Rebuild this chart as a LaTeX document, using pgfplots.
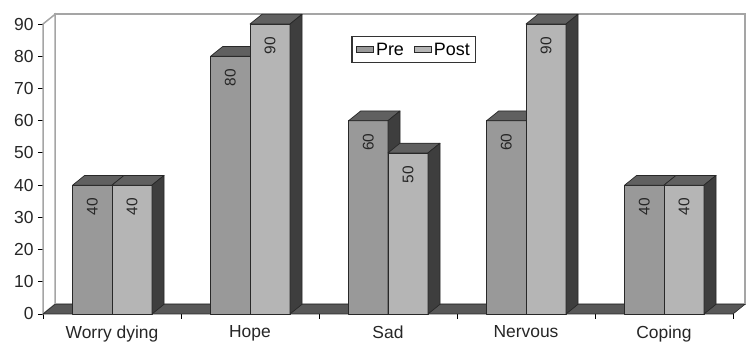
\documentclass[border=0pt]{standalone}
\usepackage{pgfplots}
\pgfplotsset{compat=1.18}
\usepackage{fontspec}
\setmainfont{Liberation Sans}
\definecolor{preC}{RGB}{153,153,153}
\definecolor{postC}{RGB}{181,181,181}
\definecolor{topC}{RGB}{96,96,96}
\definecolor{sideC}{RGB}{62,62,62}
\definecolor{floorC}{RGB}{88,88,88}
\definecolor{edgeC}{RGB}{40,40,40}
\definecolor{wallC}{RGB}{165,165,165}
\begin{document}
\begin{tikzpicture}
\begin{axis}[
  x=138bp, y=3.222bp,
  xmin=-0.5, xmax=4.5, ymin=0, ymax=90,
  clip=false,
  axis lines*=left,
  axis line style={black, line width=1bp},
  tick align=outside,
  major tick length=5bp,
  tick style={black, line width=0.8bp},
  ytick={0,10,...,90},
  xtick={-0.5,0.5,...,4.5},
  xticklabels={},
  extra x ticks={0,1,2,3,4},
  extra x tick labels={Worry dying,Hope,Sad,Nervous,Coping},
  extra x tick style={major tick length=0pt, xticklabel style={yshift=-8bp}},
  /pgf/number format/assume math mode=true,
  ticklabel style={font=\fontsize{17.5}{20}\selectfont, text=black!85},
  yticklabel style={xshift=-1bp},
  legend style={at={(axis cs:2.188,82)}, anchor=center, draw=black!80, line width=1.2bp,
    font=\fontsize{18}{21}\selectfont, inner xsep=4bp, inner ysep=4bp,
    /tikz/every even column/.append style={column sep=8bp}},
  legend columns=2,
  every axis plot/.append style={forget plot},
  poly/.style={draw=edgeC, line width=0.7bp, line join=round},
]
% back wall and left wall
\addplot[fill=white, draw=wallC, line width=2bp] coordinates {(-0.413,3) (4.587,3) (4.587,93) (-0.413,93)} -- cycle;
\addplot[fill=white, draw=wallC, line width=1.5bp] coordinates {(-0.5,0) (-0.413,3) (-0.413,93) (-0.5,90)} -- cycle;
% floor
\addplot[fill=floorC, draw=edgeC, line width=0.6bp] coordinates {(-0.5,0) (4.5,0) (4.587,3) (-0.413,3)} -- cycle;

% Worry dying: Pre 40, Post 40
\addplot[poly, fill=preC] coordinates {(-0.285,0) (0,0) (0,40) (-0.285,40)} -- cycle;
\addplot[poly, fill=topC] coordinates {(-0.285,40) (0,40) (0.087,43) (-0.198,43)} -- cycle;
\addplot[poly, fill=postC] coordinates {(0,0) (0.29,0) (0.29,40) (0,40)} -- cycle;
\addplot[poly, fill=topC] coordinates {(0,40) (0.29,40) (0.377,43) (0.087,43)} -- cycle;
\addplot[poly, fill=sideC] coordinates {(0.29,0) (0.377,3) (0.377,43) (0.29,40)} -- cycle;

% Hope: Pre 80, Post 90
\addplot[poly, fill=preC] coordinates {(0.715,0) (1,0) (1,80) (0.715,80)} -- cycle;
\addplot[poly, fill=topC] coordinates {(0.715,80) (1,80) (1.087,83) (0.802,83)} -- cycle;
\addplot[poly, fill=postC] coordinates {(1,0) (1.29,0) (1.29,90) (1,90)} -- cycle;
\addplot[poly, fill=topC] coordinates {(1,90) (1.29,90) (1.377,93) (1.087,93)} -- cycle;
\addplot[poly, fill=sideC] coordinates {(1.29,0) (1.377,3) (1.377,93) (1.29,90)} -- cycle;

% Sad: Pre 60, Post 50
\addplot[poly, fill=preC] coordinates {(1.715,0) (2,0) (2,60) (1.715,60)} -- cycle;
\addplot[poly, fill=topC] coordinates {(1.715,60) (2,60) (2.087,63) (1.802,63)} -- cycle;
\addplot[poly, fill=sideC] coordinates {(2,0) (2.087,3) (2.087,63) (2,60)} -- cycle;
\addplot[poly, fill=postC] coordinates {(2,0) (2.29,0) (2.29,50) (2,50)} -- cycle;
\addplot[poly, fill=topC] coordinates {(2,50) (2.29,50) (2.377,53) (2.087,53)} -- cycle;
\addplot[poly, fill=sideC] coordinates {(2.29,0) (2.377,3) (2.377,53) (2.29,50)} -- cycle;

% Nervous: Pre 60, Post 90
\addplot[poly, fill=preC] coordinates {(2.715,0) (3,0) (3,60) (2.715,60)} -- cycle;
\addplot[poly, fill=topC] coordinates {(2.715,60) (3,60) (3.087,63) (2.802,63)} -- cycle;
\addplot[poly, fill=postC] coordinates {(3,0) (3.29,0) (3.29,90) (3,90)} -- cycle;
\addplot[poly, fill=topC] coordinates {(3,90) (3.29,90) (3.377,93) (3.087,93)} -- cycle;
\addplot[poly, fill=sideC] coordinates {(3.29,0) (3.377,3) (3.377,93) (3.29,90)} -- cycle;

% Coping: Pre 40, Post 40
\addplot[poly, fill=preC] coordinates {(3.715,0) (4,0) (4,40) (3.715,40)} -- cycle;
\addplot[poly, fill=topC] coordinates {(3.715,40) (4,40) (4.087,43) (3.802,43)} -- cycle;
\addplot[poly, fill=postC] coordinates {(4,0) (4.29,0) (4.29,40) (4,40)} -- cycle;
\addplot[poly, fill=topC] coordinates {(4,40) (4.29,40) (4.377,43) (4.087,43)} -- cycle;
\addplot[poly, fill=sideC] coordinates {(4.29,0) (4.377,3) (4.377,43) (4.29,40)} -- cycle;

% data labels
\begin{scope}[every node/.style={rotate=90, anchor=east, inner sep=0pt, font=\fontsize{15.5}{18}\selectfont, text=black!85}]
\node at (axis cs:-0.1425,36) {40};
\node at (axis cs:0.145,36) {40};
\node at (axis cs:0.8575,76) {80};
\node at (axis cs:1.145,86) {90};
\node at (axis cs:1.8575,56) {60};
\node at (axis cs:2.145,46) {50};
\node at (axis cs:2.8575,56) {60};
\node at (axis cs:3.145,86) {90};
\node at (axis cs:3.8575,36) {40};
\node at (axis cs:4.145,36) {40};
\end{scope}

% legend
\addlegendimage{area legend, fill=preC, draw=edgeC, line width=1bp}
\addlegendentry{Pre}
\addlegendimage{area legend, fill=postC, draw=edgeC, line width=1bp}
\addlegendentry{Post}

% picture bounds
\path (axis cs:-0.8116,-10.24) rectangle (axis cs:4.616,97.45);
\end{axis}
\end{tikzpicture}
\end{document}
